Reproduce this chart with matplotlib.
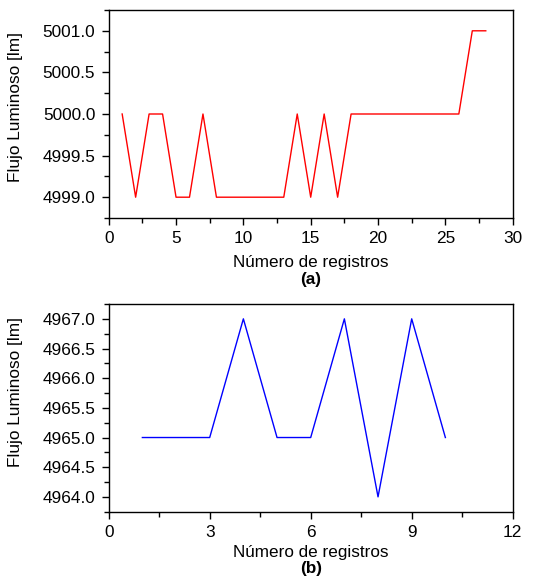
import matplotlib
matplotlib.use("Agg")
import matplotlib.pyplot as plt
from matplotlib.ticker import MultipleLocator, FormatStrFormatter

plt.rcParams['font.family'] = ['Liberation Sans', 'DejaVu Sans']

# datos (a)
registros_a = list(range(1, 29))
flujo_a = [5000, 4999, 5000, 5000, 4999, 4999, 5000, 4999, 4999, 4999,
           4999, 4999, 4999, 5000, 4999, 5000, 4999, 5000, 5000, 5000,
           5000, 5000, 5000, 5000, 5000, 5000, 5001, 5001]

# datos (b)
registros_b = list(range(1, 11))
flujo_b = [4965, 4965, 4965, 4967, 4965, 4965, 4967, 4964, 4967, 4965]

W, H = 558, 580
fig = plt.figure(figsize=(W/100, H/100), dpi=100)
ax1 = fig.add_axes([108.7/W, 1 - 218/H, 404/W, 208/H])
ax2 = fig.add_axes([108.7/W, 1 - 511.7/H, 404/W, 207.7/H])

def estilo(ax, alto, off_lbl, off_letra, letra, y_lbl):
    ax.tick_params(which='both', direction='out', top=False, right=False,
                   labelsize=12.4, pad=5)
    ax.tick_params(which='major', length=4.7, width=1)
    ax.tick_params(which='minor', length=3.5, width=1)
    for s in ax.spines.values():
        s.set_linewidth(1)
    ax.set_ylabel('Flujo Luminoso [lm]', fontsize=12.4)
    ax.yaxis.set_label_coords(-0.211, y_lbl)
    ax.set_xlabel('Número de registros', fontsize=12.3, va='top')
    ax.xaxis.set_label_coords(0.5, -off_lbl/alto)
    ax.yaxis.set_major_formatter(FormatStrFormatter('%.1f'))
    ax.yaxis.set_major_locator(MultipleLocator(0.5))
    ax.yaxis.set_minor_locator(MultipleLocator(0.25))
    ax.text(0.5, -off_letra/alto, letra, transform=ax.transAxes, ha='center', va='top',
            fontsize=12.3, fontweight='bold')

ax1.plot(registros_a, flujo_a, color='red', lw=1)
ax1.set_xlim(0, 30)
ax1.set_ylim(4998.75, 5001.25)
ax1.xaxis.set_major_locator(MultipleLocator(5))
ax1.xaxis.set_minor_locator(MultipleLocator(2.5))
estilo(ax1, 208, 37, 54, '(a)', 0.534)

ax2.plot(registros_b, flujo_b, color='blue', lw=1)
ax2.set_xlim(0, 12)
ax2.set_ylim(4963.75, 4967.25)
ax2.xaxis.set_major_locator(MultipleLocator(3))
ax2.xaxis.set_minor_locator(MultipleLocator(1.5))
estilo(ax2, 207.7, 33.5, 49, '(b)', 0.574)

fig.savefig('out.png', dpi=100)
